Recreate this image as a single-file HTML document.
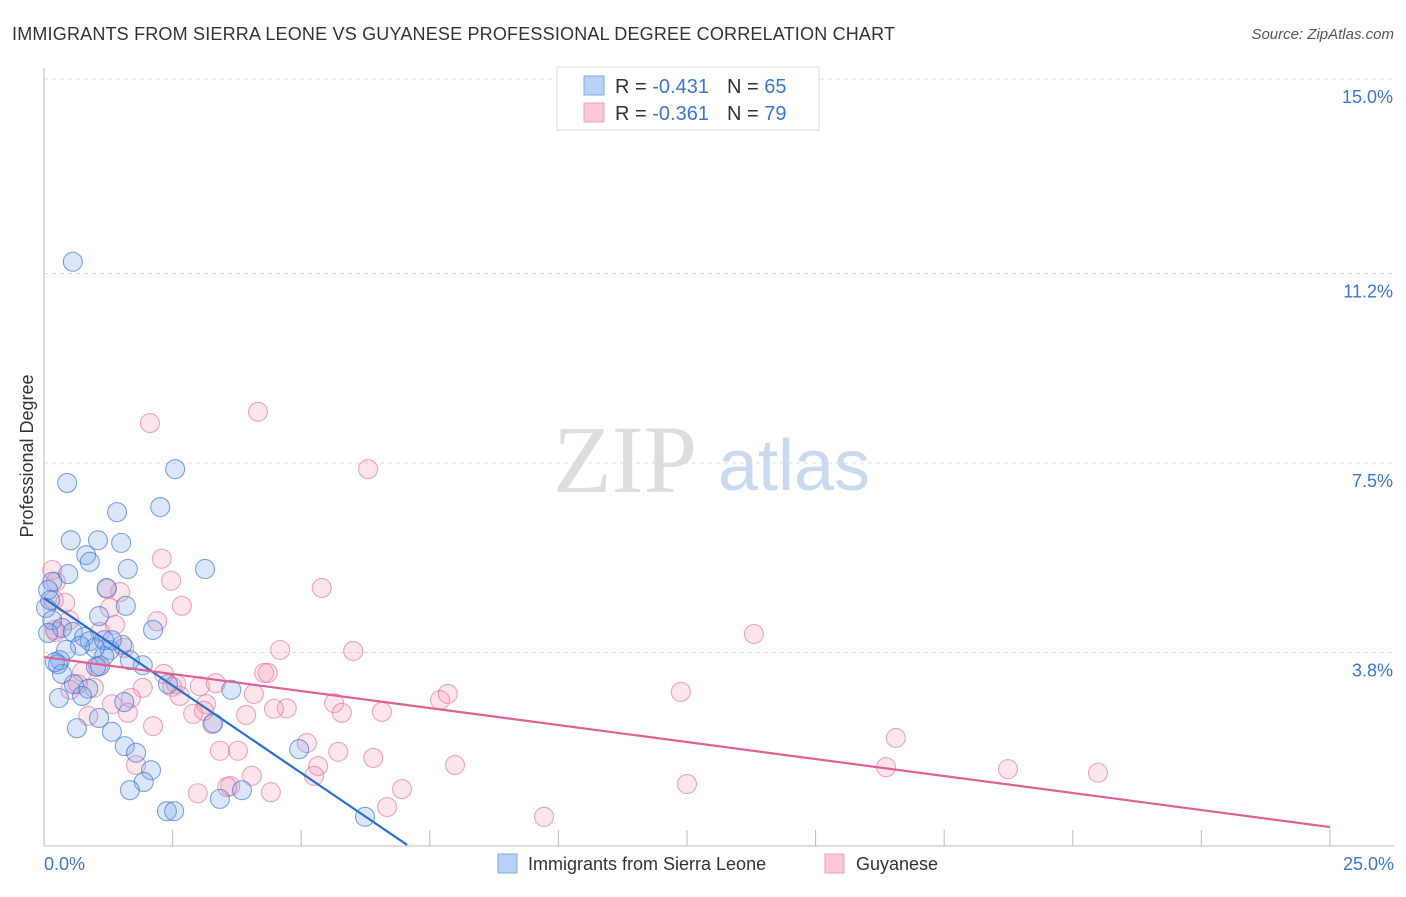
<!DOCTYPE html>
<html><head><meta charset="utf-8"><style>
body{margin:0;background:#fff;font-family:"Liberation Sans",sans-serif}
svg text{font-family:"Liberation Sans",sans-serif}
</style></head><body>
<svg width="1406" height="892" viewBox="0 0 1406 892">
<text x="12" y="40" font-size="18" fill="#333" textLength="883">IMMIGRANTS FROM SIERRA LEONE VS GUYANESE PROFESSIONAL DEGREE CORRELATION CHART</text>
<text x="1394" y="39" font-size="15" fill="#555" font-style="italic" text-anchor="end">Source: ZipAtlas.com</text>
<g>
<text x="553" y="492" font-size="96" fill="#ddd" font-family="Liberation Serif" style="font-family:'Liberation Serif',serif">ZIP</text>
<text x="718" y="490" font-size="72" fill="#c9daf0">atlas</text>
</g>
<g id="grid"></g>
<g id="axes"></g>
<g id="points"></g>
<g id="lines"></g>
<text transform="translate(33,456) rotate(-90)" font-size="18" fill="#333" text-anchor="middle">Professional Degree</text>
<g>
<rect x="557" y="67" width="262" height="63" fill="#fff" stroke="#ddd"/>
<rect x="584" y="76" width="20" height="19" fill="#b8d2f5" stroke="#7ea9e6"/>
<rect x="584" y="103" width="20" height="19" fill="#fbc8d6" stroke="#eea2b9"/>
<text x="615" y="93" font-size="20" fill="#333">R = <tspan fill="#3b76d4">-0.431</tspan><tspan dx="18">N = </tspan><tspan fill="#3b76d4">65</tspan></text>
<text x="615" y="120" font-size="20" fill="#333">R = <tspan fill="#3b76d4">-0.361</tspan><tspan dx="18">N = </tspan><tspan fill="#3b76d4">79</tspan></text>
</g>
<g>
<rect x="498" y="854" width="19" height="19" fill="#b8d2f5" stroke="#7ea9e6"/>
<text x="528" y="870" font-size="18" fill="#333">Immigrants from Sierra Leone</text>
<rect x="825" y="854" width="19" height="19" fill="#fbc8d6" stroke="#eea2b9"/>
<text x="856" y="870" font-size="18" fill="#333">Guyanese</text>
</g>
</svg>
<script>
const yTicks=[15.0,11.2,7.5,3.8];
const yTickLabels=["15.0%","11.2%","7.5%","3.8%"];
const xTickVals=[2.5,5,7.5,10,12.5,15,17.5,20,22.5,25];
const xLabels=["0.0%","25.0%"];
const blueX=[0.56,0.45,2.55,2.26,1.42,0.52,1.05,1.50,0.82,0.89,1.63,3.13,0.47,0.16,0.08,1.22,1.59,1.07,0.04,0.16,0.35,0.56,2.12,0.78,0.89,0.70,1.52,1.28,1.17,0.43,0.31,1.01,1.92,1.09,0.27,0.35,0.58,0.86,2.41,3.64,0.29,0.74,1.56,1.07,3.29,0.64,1.32,1.57,1.79,4.96,2.08,1.94,1.67,3.85,3.42,2.39,2.53,6.24,0.12,0.08,1.67,0.99,0.21,1.32,1.17];
const blueY=[11.43,7.11,7.38,6.64,6.54,5.99,5.99,5.94,5.70,5.57,5.43,5.43,5.33,5.18,5.02,5.06,4.71,4.51,4.67,4.43,4.28,4.20,4.24,4.10,4.02,3.93,3.95,3.85,3.73,3.85,3.65,3.52,3.55,3.54,3.57,3.38,3.18,3.09,3.18,3.07,2.91,2.95,2.83,2.52,2.42,2.32,2.25,1.97,1.84,1.91,1.50,1.27,1.11,1.11,0.94,0.70,0.70,0.59,4.82,4.18,3.65,3.89,3.61,4.04,4.04];
const pinkX=[4.16,2.06,6.30,2.29,2.47,5.40,1.48,2.68,1.22,0.16,0.23,0.19,0.41,2.20,0.49,1.38,13.80,0.23,1.09,1.56,4.59,6.01,1.05,0.74,4.28,4.35,2.33,2.57,3.03,2.49,0.66,0.97,1.92,3.34,4.08,2.64,1.69,7.70,7.85,12.38,5.64,3.15,1.32,4.72,4.47,5.79,6.57,2.90,3.93,1.63,0.86,3.11,2.12,3.27,16.56,5.11,3.42,3.77,5.72,6.40,7.99,5.33,1.79,16.37,18.74,20.49,4.04,5.25,3.62,3.56,6.96,12.50,4.41,2.99,6.67,9.72,0.21,1.28,0.51];
const pinkY=[8.50,8.28,7.38,5.63,5.20,5.06,4.98,4.71,5.04,5.41,5.18,4.82,4.77,4.41,4.43,4.34,4.16,4.20,4.20,3.89,3.85,3.83,3.52,3.42,3.40,3.40,3.38,3.18,3.14,3.13,3.18,3.11,3.11,3.20,2.99,2.95,2.91,2.87,2.99,3.03,2.81,2.79,2.79,2.71,2.70,2.62,2.64,2.60,2.58,2.62,2.56,2.66,2.36,2.40,2.13,2.03,1.88,1.88,1.86,1.74,1.60,1.58,1.60,1.56,1.52,1.45,1.39,1.39,1.19,1.17,1.13,1.23,1.07,1.05,0.78,0.59,4.24,4.67,3.07];
const blueTrend=[0,4.86,7.06,0.04];
const pinkTrend=[0,3.71,25,0.39];
const NS="http://www.w3.org/2000/svg";
const sx=v=>44+v*51.44, sy=v=>847-v*51.2;
function mk(tag,attrs,parent){const e=document.createElementNS(NS,tag);for(const k in attrs)e.setAttribute(k,attrs[k]);document.getElementById(parent).appendChild(e);return e;}
mk('line',{x1:44,y1:79,x2:1394,y2:79,stroke:'#ddd','stroke-dasharray':'4 4'},'grid');
yTicks.forEach((t,i)=>{
 const l=mk('line',{x1:44,y1:sy(t),x2:1394,y2:sy(t),stroke:'#ddd','stroke-dasharray':'4 4'},'grid');
 
 
 const tx=mk('text',{x:1393,y:sy(t)+24,'font-size':18,fill:'#3b76d4','text-anchor':'end'},'grid');
 tx.textContent=yTickLabels[i];
 
 
});
mk('line',{x1:44,y1:68,x2:44,y2:846,stroke:'#bbb'},'axes');
mk('line',{x1:44,y1:846,x2:1394,y2:846,stroke:'#bbb'},'axes');
xTickVals.forEach(v=>{const t=mk('line',{x1:sx(v),y1:830,x2:sx(v),y2:846,stroke:'#bbb'},'axes');
 
 });
const xl0=mk('text',{x:44,y:870,'font-size':18,fill:'#3b76d4'},'axes');xl0.textContent=xLabels[0];


const xl1=mk('text',{x:1394,y:870,'font-size':18,fill:'#3b76d4','text-anchor':'end'},'axes');xl1.textContent=xLabels[1];


pinkX.forEach((x,i)=>{const c=mk('circle',{cx:sx(x),cy:sy(pinkY[i]),r:9.5,fill:'rgba(244,150,178,0.25)',stroke:'rgba(226,110,150,0.6)','stroke-width':1.1},'points');
 
 });
blueX.forEach((x,i)=>{const c=mk('circle',{cx:sx(x),cy:sy(blueY[i]),r:9.5,fill:'rgba(110,160,230,0.25)',stroke:'rgba(60,120,210,0.65)','stroke-width':1.1},'points');
 
 });
const bl=mk('line',{x1:sx(blueTrend[0]),y1:sy(blueTrend[1]),x2:sx(blueTrend[2]),y2:sy(blueTrend[3]),stroke:'#2a6fd0','stroke-width':2.2},'lines');


const pl=mk('line',{x1:sx(pinkTrend[0]),y1:sy(pinkTrend[1]),x2:sx(pinkTrend[2]),y2:sy(pinkTrend[3]),stroke:'#e0608f','stroke-width':2.2},'lines');


</script>
</body></html>
